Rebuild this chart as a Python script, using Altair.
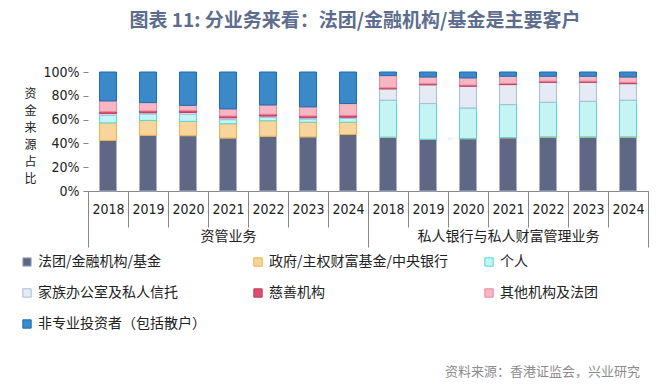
import altair as alt
import pandas as pd

series = ["法团/金融机构/基金", "政府/主权财富基金/中央银行", "个人",
          "家族办公室及私人信托", "慈善机构", "其他机构及法团",
          "非专业投资者（包括散户）"]
years = ["2018", "2019", "2020", "2021", "2022", "2023", "2024"]
groups = ["资管业务", "私人银行与私人财富管理业务"]

# 资管业务 (%)
am_vals = [
    [42.5, 46.8, 46.5, 44.5, 46.0, 45.5, 47.5],
    [14.7, 12.5, 12.0, 12.0, 13.0, 12.3, 10.3],
    [6.5, 5.5, 6.0, 3.5, 3.0, 2.8, 3.2],
    [1.5, 1.0, 1.5, 1.5, 1.0, 1.0, 1.0],
    [1.5, 1.5, 1.5, 1.5, 1.5, 1.5, 1.5],
    [9.0, 7.0, 4.5, 6.0, 7.8, 7.6, 10.0],
    [24.3, 25.7, 28.0, 31.0, 27.7, 29.3, 26.5],
]
# 私人银行与私人财富管理业务 (%)
pb_vals = [
    [45.0, 43.3, 43.9, 44.7, 45.3, 45.3, 45.3],
    [0.3, 0.2, 0.2, 0.2, 0.2, 0.2, 0.2],
    [31.0, 30.0, 25.7, 27.7, 29.1, 29.9, 30.8],
    [9.5, 15.7, 18.2, 16.8, 16.7, 15.9, 13.9],
    [1.0, 1.0, 1.0, 1.0, 1.0, 1.0, 1.0],
    [10.2, 5.6, 6.0, 6.0, 4.1, 4.1, 4.6],
    [3.0, 4.2, 5.0, 3.6, 3.6, 3.6, 4.2],
]

fills = ["#5e6884", "#f8d59c", "#c4f4f4", "#e4ebf5", "#d8506e", "#f6b6c4", "#3b89c9"]
strokes = ["#a9b3c7", "#efb04a", "#58d6d6", "#a8bcd8", "#c63a5a", "#ea879e", "#1b6db5"]

rows = []
keys = []
for gi, (g, vals) in enumerate(zip(groups, [am_vals, pb_vals])):
    for yi, y in enumerate(years):
        key = "AB"[gi] + y
        keys.append(key)
        for si, s in enumerate(series):
            rows.append({"key": key, "group": g, "year": y, "series": s,
                         "idx": si, "value": vals[si][yi]})
df = pd.DataFrame(rows)

CJK = "Noto Sans CJK SC"
NUMF = "'Liberation Sans Narrow', 'DejaVu Sans Condensed', 'Noto Sans CJK SC', sans-serif"

bars = alt.Chart(df).mark_bar(size=17, strokeWidth=1).encode(
    x=alt.X("key:N", sort=keys,
            scale=alt.Scale(domain=keys, paddingInner=0, paddingOuter=0),
            axis=alt.Axis(title=None, labelExpr="substring(datum.label, 1)",
                          labelAngle=0, tickBand="extent", tickSize=36,
                          labelPadding=-25, labelFontSize=14, labelFont=NUMF,
                          labelColor="#222222", domainColor="#888888",
                          tickColor="#888888")),
    y=alt.Y("value:Q", stack="normalize",
            scale=alt.Scale(domain=[0, 1]),
            axis=alt.Axis(format=".0%", values=[0, 0.2, 0.4, 0.6, 0.8, 1.0],
                          grid=False, domain=False, tickSize=5,
                          tickColor="#888888", labelPadding=4,
                          labelFontSize=14, labelFont=NUMF, labelColor="#222222",
                          title=["资", "金", "来", "源", "占", "比"],
                          titleAngle=0, titleX=-58, titleY=16,
                          titleAlign="center", titleBaseline="top",
                          titleFont=CJK, titleFontSize=12, titleFontWeight="normal",
                          titleLineHeight=17, titleColor="#222222")),
    color=alt.Color("series:N", sort=series,
                    scale=alt.Scale(domain=series, range=fills),
                    legend=alt.Legend(title=None, orient="none", legendX=-68,
                                      legendY=183, columns=3, columnPadding=34,
                                      rowPadding=17, gridAlign="all",
                                      direction="horizontal",
                                      values=series,
                                      symbolType="square", symbolSize=70,
                                      symbolStrokeWidth=1, labelFont=CJK,
                                      labelFontSize=14, labelColor="#222222",
                                      labelLimit=400)),
    stroke=alt.Stroke("series:N", sort=series,
                      scale=alt.Scale(domain=series, range=strokes),
                      legend=None),
    order=alt.Order("idx:Q", sort="ascending"),
)

gdf = pd.DataFrame({"group": groups})
grp = alt.Chart(gdf).mark_text(opacity=0, text=" ").encode(
    x=alt.X("group:N", sort=groups,
            scale=alt.Scale(domain=groups, paddingInner=0, paddingOuter=0),
            axis=alt.Axis(orient="bottom", title=None, labelAngle=0,
                          tickBand="extent", tickSize=56, labelPadding=-18,
                          domain=False, tickColor="#888888", labelFont=CJK,
                          labelFontSize=14, labelColor="#222222",
                          labelLimit=400)),
    y=alt.value(0),
)

one = pd.DataFrame({"a": [0]})
title = alt.Chart(one).mark_text(
    text="图表 11:  分业务来看：法团/金融机构/基金是主要客户",
    font=CJK, fontSize=19, fontWeight="bold", color="#5d6d8e",
    align="center", baseline="middle",
).encode(x=alt.value(267), y=alt.value(-51))

source = alt.Chart(one).mark_text(
    text="资料来源：香港证监会，兴业研究",
    font=CJK, fontSize=13, color="#8c8c8c", align="right", baseline="middle",
).encode(x=alt.value(552), y=alt.value(300))

chart = alt.layer(bars, grp, title, source).resolve_scale(
    x="independent"
).properties(
    width=560, height=119,
    autosize=alt.AutoSizeParams(type="none"),
    padding={"left": 80, "top": 64, "right": 10, "bottom": 189},
).configure_view(stroke=None)

chart.save("out.html", embed_options={"renderer": "svg", "actions": False})
